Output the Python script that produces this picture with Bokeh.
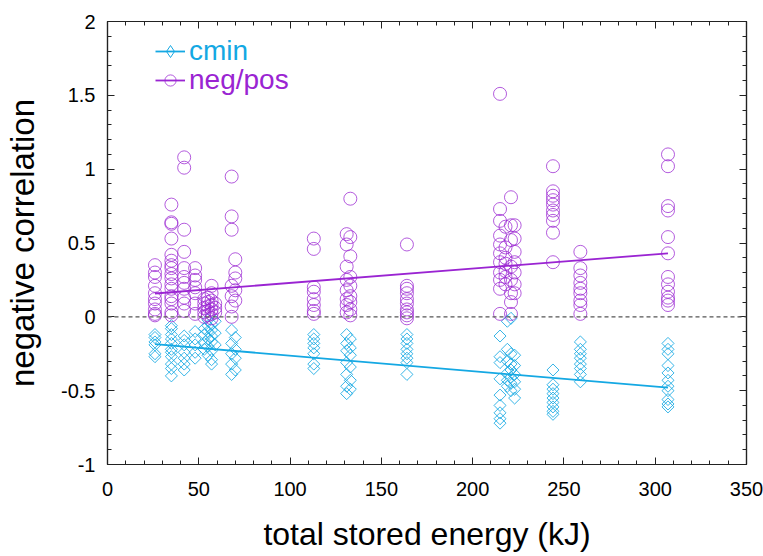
import numpy as np
from bokeh.plotting import figure
from bokeh.models import (Range1d, LinearAxis, FixedTicker, Span, Legend,
                          LegendItem)
from bokeh.embed import file_html
from bokeh.resources import INLINE

# ---------------- data ----------------
neg_levels = [26, 35, 42, 48, 53, 55, 57, 59, 68, 70, 113, 131, 133, 164,
              215, 218, 221, 223, 244, 259, 307]
neg_values = [
    [0.35, 0.30, 0.27, 0.21, 0.16, 0.12, 0.09, 0.05, 0.02, 0.01],
    [0.76, 0.64, 0.63, 0.53, 0.42, 0.38, 0.35, 0.33, 0.29, 0.26, 0.22, 0.19, 0.14, 0.12, 0.09, 0.03, 0.01],
    [1.08, 1.01, 0.59, 0.44, 0.33, 0.27, 0.23, 0.19, 0.13, 0.09, 0.04],
    [0.33, 0.28, 0.25, 0.20, 0.16, 0.09, 0.02],
    [0.12, 0.09, 0.06, 0.03, 0.00],
    [0.13, 0.10, 0.07, 0.04, 0.01],
    [0.21, 0.16, 0.11, 0.08, 0.05, 0.02, -0.01],
    [0.09, 0.06, 0.03],
    [0.95, 0.68, 0.59, 0.21, 0.14, 0.07, 0.00],
    [0.39, 0.30, 0.26, 0.18, 0.11],
    [0.53, 0.46, 0.20, 0.17, 0.12, 0.08, 0.04, 0.02],
    [0.56, 0.49, 0.34, 0.25, 0.18, 0.12, 0.08, 0.03],
    [0.80, 0.54, 0.41, 0.27, 0.21, 0.14, 0.10, 0.05, 0.01],
    [0.49, 0.21, 0.19, 0.16, 0.12, 0.09, 0.05, 0.03, 0.01, -0.01],
    [1.51, 0.73, 0.65, 0.55, 0.49, 0.43, 0.37, 0.30, 0.25, 0.19, 0.02],
    [0.61, 0.47, 0.40, 0.36, 0.31, 0.27, 0.22],
    [0.81, 0.62, 0.52, 0.34, 0.25, 0.16, 0.10, 0.02],
    [0.62, 0.53, 0.44, 0.37, 0.30, 0.22, 0.16],
    [1.02, 0.85, 0.82, 0.79, 0.76, 0.72, 0.69, 0.65, 0.57, 0.37],
    [0.44, 0.33, 0.28, 0.23, 0.19, 0.16, 0.11, 0.08, 0.02],
    [1.10, 1.02, 0.75, 0.72, 0.54, 0.43, 0.27, 0.22, 0.17, 0.13, 0.11, 0.08],
]

cmin_levels = [26, 35, 42, 48, 53, 55, 57, 59, 68, 70, 113, 131, 133, 164,
               215, 219, 221, 223, 244, 259, 307]
cmin_values = [
    [-0.12, -0.14, -0.17, -0.19, -0.25, -0.27],
    [-0.06, -0.08, -0.12, -0.15, -0.18, -0.22, -0.24, -0.27, -0.32, -0.35, -0.40],
    [-0.13, -0.16, -0.19, -0.24, -0.28, -0.32, -0.36],
    [-0.10, -0.15, -0.19, -0.24, -0.28],
    [-0.08, -0.12, -0.18, -0.22],
    [-0.02, -0.06, -0.10, -0.15, -0.20, -0.26],
    [-0.05, -0.09, -0.13, -0.17, -0.23, -0.29, -0.32],
    [-0.03, -0.11, -0.19],
    [-0.09, -0.18, -0.25, -0.32, -0.39],
    [-0.14, -0.22, -0.28, -0.36],
    [-0.12, -0.15, -0.18, -0.21, -0.25, -0.32, -0.35],
    [-0.12, -0.18, -0.23, -0.31, -0.39, -0.47, -0.52],
    [-0.15, -0.21, -0.26, -0.34, -0.43, -0.49],
    [-0.12, -0.15, -0.18, -0.22, -0.25, -0.28, -0.31, -0.39],
    [-0.13, -0.27, -0.31, -0.42, -0.53, -0.60, -0.65, -0.69, -0.72],
    [-0.03, -0.22, -0.30, -0.38, -0.43, -0.47],
    [-0.01, -0.25, -0.32, -0.36, -0.41, -0.45, -0.50],
    [-0.26, -0.33, -0.39, -0.44, -0.49, -0.55],
    [-0.36, -0.46, -0.49, -0.52, -0.55, -0.58, -0.61, -0.64, -0.66],
    [-0.17, -0.22, -0.25, -0.28, -0.32, -0.35, -0.39, -0.44],
    [-0.18, -0.22, -0.25, -0.33, -0.38, -0.43, -0.47, -0.50, -0.56, -0.59, -0.61],
]

fit_x = [26, 307]
neg_fit = [0.158, 0.43]
cmin_fit = [-0.185, -0.48]

x_ticks = [0, 50, 100, 150, 200, 250, 300, 350]
x_tick_labels = ["0", "50", "100", "150", "200", "250", "300", "350"]
y_ticks = [-1, -0.5, 0, 0.5, 1, 1.5, 2]
y_tick_labels = ["-1", "-0.5", "0", "0.5", "1", "1.5", "2"]
x_label = "total stored energy (kJ)"
y_label = "negative correlation"
series_names = ["cmin", "neg/pos"]

# ---------------- styling ----------------
CYAN = "#14A8E3"
PURPLE = "#9A24D2"
FONT = "Liberation Sans"
FRAME = "#222222"

neg_x = [lv for lv, vals in zip(neg_levels, neg_values) for _ in vals]
neg_y = [v for vals in neg_values for v in vals]
cmin_x = [lv for lv, vals in zip(cmin_levels, cmin_values) for _ in vals]
cmin_y = [v for vals in cmin_values for v in vals]

p = figure(width=763, height=556, x_range=Range1d(0, 350), y_range=Range1d(-1, 2),
           output_backend="svg", toolbar_location=None,
           min_border_left=107, min_border_right=17, min_border_top=21,
           min_border_bottom=92)
p.grid.visible = False
p.outline_line_color = FRAME
p.outline_line_width = 1.2
p.background_fill_color = "white"
p.border_fill_color = "white"

p.add_layout(Span(location=0, dimension="width", line_color="#555555",
                  line_dash="4 3", line_width=1.3))

r_cmin = p.scatter(cmin_x, cmin_y, marker="square", angle=np.pi / 4, size=8.5,
                   fill_color=None, line_color=CYAN, line_alpha=0.85, line_width=1)
r_neg = p.scatter(neg_x, neg_y, marker="circle", size=13,
                  fill_color=None, line_color=PURPLE, line_alpha=0.75, line_width=1)
l_cmin = p.line(fit_x, cmin_fit, line_color=CYAN, line_width=1.8)
l_neg = p.line(fit_x, neg_fit, line_color=PURPLE, line_width=1.8)
# legend key only (NaN position, never drawn in the plot) so the legend shows a diamond
r_cmin_key = p.scatter([np.nan], [np.nan], marker="diamond", size=12, fill_color=None,
                       line_color=CYAN, line_width=1)

xt = FixedTicker(ticks=x_ticks, minor_ticks=list(range(0, 351, 10)))
yt = FixedTicker(ticks=y_ticks, minor_ticks=[round(-1 + 0.1 * i, 1) for i in range(31)])


def style_axis(ax):
    ax.major_tick_in = 7
    ax.major_tick_out = 0
    ax.minor_tick_in = 4
    ax.minor_tick_out = 0
    ax.axis_line_color = FRAME
    ax.axis_line_width = 1.2
    ax.major_tick_line_color = FRAME
    ax.minor_tick_line_color = FRAME
    ax.major_label_text_font = FONT
    ax.major_label_text_font_size = "20px"
    ax.major_label_text_color = "black"
    ax.axis_label_text_font = FONT
    ax.axis_label_text_font_size = "32px"
    ax.axis_label_text_font_style = "normal"
    ax.axis_label_text_color = "black"


xa = p.xaxis[0]
xa.ticker = xt
xa.major_label_overrides = dict(zip(x_ticks, x_tick_labels))
xa.major_label_standoff = 17
style_axis(xa)
xa.axis_label = x_label
xa.axis_label_standoff = 17

ya = p.yaxis[0]
ya.ticker = yt
ya.major_label_overrides = dict(zip(y_ticks, y_tick_labels))
ya.major_label_standoff = 12
style_axis(ya)
ya.axis_label = y_label
ya.axis_label_text_font_size = "33px"
ya.axis_label_standoff = 17

top = LinearAxis(ticker=xt, major_label_overrides={t: "" for t in x_ticks})
style_axis(top)
top.major_label_standoff = 0
p.add_layout(top, "above")
right = LinearAxis(ticker=yt, major_label_overrides={t: "" for t in y_ticks})
style_axis(right)
right.major_label_standoff = 0
p.add_layout(right, "right")

leg_common = dict(padding=0, margin=0, spacing=0, border_line_color=None,
                  background_fill_alpha=0, glyph_width=30, label_standoff=4,
                  label_text_font=FONT, label_text_font_size="28px")
leg1 = Legend(items=[LegendItem(label=series_names[0], renderers=[l_cmin, r_cmin_key])],
              location=(48, 397), glyph_height=30, label_text_color=CYAN, **leg_common)
leg2 = Legend(items=[LegendItem(label=series_names[1], renderers=[l_neg, r_neg])],
              location=(48, 368), glyph_height=28, label_text_color=PURPLE, **leg_common)
p.add_layout(leg1, "center")
p.add_layout(leg2, "center")

open("out.html", "w").write(file_html(p, INLINE))
